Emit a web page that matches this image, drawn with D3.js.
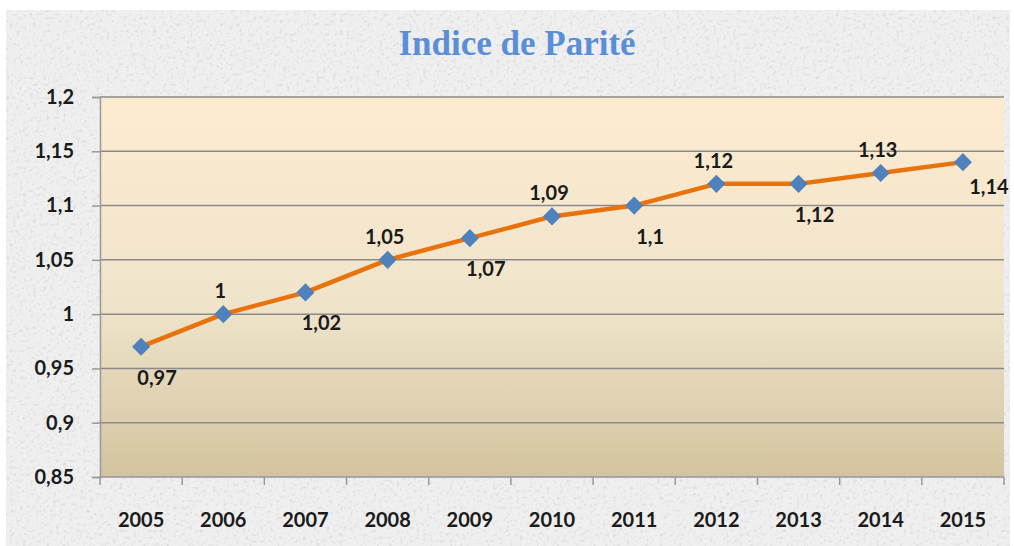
<!DOCTYPE html>
<html lang="fr">
<head>
<meta charset="UTF-8">
<title>Indice de Parité</title>
<script src="https://d3js.org/d3.v7.min.js"></script>
<style>
    body { margin: 0; background: #fff; }
    svg { display: block; }
</style>
</head>
<body>
<div id="chart"></div>
<script>
    // data
    var years = ['2005', '2006', '2007', '2008', '2009', '2010', '2011', '2012', '2013', '2014', '2015'];
    var parite = [0.97, 1, 1.02, 1.05, 1.07, 1.09, 1.1, 1.12, 1.12, 1.13, 1.14];
    var yTicks = [0.85, 0.9, 0.95, 1, 1.05, 1.1, 1.15, 1.2];

    var width = 1014, height = 546;
    var margin = {top: 97, right: 10, bottom: 69, left: 100};
    var plotW = 1004 - margin.left;
    var plotH = 477 - margin.top;

    var svg = d3.select('#chart').append('svg')
        .attr('width', width)
        .attr('height', height);

    var defs = svg.append('defs');

    // granite-like texture for the outer area
    var tex = defs.append('filter').attr('id', 'granite')
        .attr('x', 0).attr('y', 0).attr('width', '100%').attr('height', '100%');
    tex.append('feTurbulence')
        .attr('type', 'fractalNoise')
        .attr('baseFrequency', 0.3)
        .attr('numOctaves', 3)
        .attr('seed', 4)
        .attr('result', 'noise');
    tex.append('feColorMatrix')
        .attr('in', 'noise')
        .attr('type', 'matrix')
        .attr('values', '0 0 0 0 0.6  0 0 0 0 0.6  0 0 0 0 0.6  -1.8 0 0 0 0.85')
        .attr('result', 'spots');
    tex.append('feComposite')
        .attr('in', 'spots')
        .attr('in2', 'SourceGraphic')
        .attr('operator', 'atop');

    var grad = defs.append('linearGradient').attr('id', 'plotbg')
        .attr('x1', 0).attr('y1', 0).attr('x2', 0).attr('y2', 1);
    grad.append('stop').attr('offset', '0%').attr('stop-color', '#fdebd0');
    grad.append('stop').attr('offset', '55%').attr('stop-color', '#efe4ca');
    grad.append('stop').attr('offset', '100%').attr('stop-color', '#d3c39f');

    // background
    svg.append('rect')
        .attr('x', 6).attr('y', 10)
        .attr('width', width - 10).attr('height', height - 10)
        .attr('fill', '#efefef')
        .attr('filter', 'url(#granite)');

    // title
    svg.append('text')
        .attr('x', 517)
        .attr('y', 55)
        .attr('text-anchor', 'middle')
        .attr('fill', '#5a8fd8')
        .style('font-family', 'Liberation Serif, serif')
        .style('font-weight', 'bold')
        .style('font-size', '35px')
        .text('Indice de Parité');

    var g = svg.append('g')
        .attr('transform', 'translate(' + margin.left + ',' + margin.top + ')');

    var x = d3.scaleBand().domain(years).range([0, plotW]);
    var y = d3.scaleLinear().domain([0.85, 1.2]).range([plotH, 0]);

    g.append('rect')
        .attr('width', plotW)
        .attr('height', plotH)
        .attr('fill', 'url(#plotbg)');

    // gridlines
    g.selectAll('.grid')
        .data(yTicks.slice(1))
        .enter().append('line')
        .attr('class', 'grid')
        .attr('x1', 0).attr('x2', plotW)
        .attr('y1', d => y(d)).attr('y2', d => y(d))
        .attr('stroke', '#8a8a8a')
        .attr('stroke-width', 1.5);

    var fmt = d => String(+d.toFixed(2)).replace('.', ',');
    var labelFont = 'Lato, Open Sans, sans-serif';
    var labelSize = '20px';

    // y axis
    var yAxis = g.append('g')
        .call(d3.axisLeft(y).tickValues(yTicks).tickSize(8).tickPadding(18).tickFormat(fmt));
    yAxis.select('.domain').attr('stroke', '#999').attr('stroke-width', 1.5);
    yAxis.selectAll('.tick line').attr('stroke', '#999').attr('stroke-width', 1.5);
    yAxis.selectAll('text')
        .attr('fill', '#1a1a1a')
        .style('font-family', labelFont)
        .style('font-weight', 'bold')
        .style('font-size', labelSize);

    // x axis, ticks between categories
    var xAxis = g.append('g')
        .attr('transform', 'translate(0,' + plotH + ')');
    xAxis.append('line')
        .attr('x1', 0).attr('x2', plotW)
        .attr('stroke', '#999').attr('stroke-width', 1.5);
    xAxis.selectAll('.sep')
        .data(years.concat(['end']))
        .enter().append('line')
        .attr('class', 'sep')
        .attr('x1', (d, i) => i * x.step()).attr('x2', (d, i) => i * x.step())
        .attr('y1', 0).attr('y2', 8)
        .attr('stroke', '#999').attr('stroke-width', 1.5);
    xAxis.selectAll('.xl')
        .data(years)
        .enter().append('text')
        .attr('x', d => x(d) + x.bandwidth() / 2)
        .attr('y', 50)
        .attr('text-anchor', 'middle')
        .attr('fill', '#1a1a1a')
        .style('font-family', labelFont)
        .style('font-weight', 'bold')
        .style('font-size', labelSize)
        .text(d => d);

    var cx = d => x(d) + x.bandwidth() / 2;
    var pts = years.map((yr, i) => ({year: yr, value: parite[i], i: i}));

    // line
    g.append('path')
        .datum(pts)
        .attr('fill', 'none')
        .attr('stroke', '#e8720c')
        .attr('stroke-width', 4.5)
        .attr('stroke-linejoin', 'round')
        .attr('d', d3.line().x(d => cx(d.year)).y(d => y(d.value)));

    // markers
    g.selectAll('.pt')
        .data(pts)
        .enter().append('path')
        .attr('class', 'pt')
        .attr('d', d3.symbol().type(d3.symbolDiamond2).size(210))
        .attr('transform', d => 'translate(' + cx(d.year) + ',' + y(d.value) + ')')
        .attr('fill', '#4f81bd');

    // data labels, alternating below / above
    var last = pts.length - 1;
    g.selectAll('.lbl')
        .data(pts)
        .enter().append('text')
        .attr('class', 'lbl')
        .attr('x', d => cx(d.year) + (d.i === last ? 26 : (d.i % 2 === 0 ? 16 : -3)))
        .attr('y', d => y(d.value) + (d.i === last ? 32 : (d.i % 2 === 0 ? 38 : -16)))
        .attr('text-anchor', 'middle')
        .attr('fill', '#1a1a1a')
        .style('font-family', labelFont)
        .style('font-weight', 'bold')
        .style('font-size', labelSize)
        .text(d => fmt(d.value));
</script>
</body>
</html>
